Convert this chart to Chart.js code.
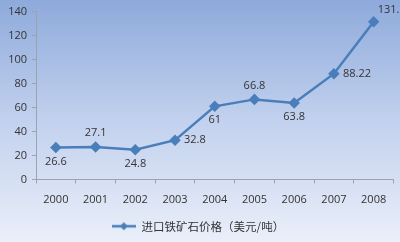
<!DOCTYPE html>
<html>
<head>
<meta charset="utf-8">
<script src="https://cdn.jsdelivr.net/npm/chart.js@4/dist/chart.umd.min.js"></script>
<style>
  html, body { margin: 0; padding: 0; background: #c6d4ee; }
  #wrap { width: 400px; height: 242px; }
</style>
</head>
<body>
<div id="wrap"><canvas id="chart" width="400" height="242"></canvas></div>
<script>
// data
const years = ['2000', '2001', '2002', '2003', '2004', '2005', '2006', '2007', '2008'];
const prices = [26.6, 27.1, 24.8, 32.8, 61, 66.8, 63.8, 88.22, 131.5];
const seriesName = '进口铁矿石价格（美元/吨）';
const yTicks = [0, 20, 40, 60, 80, 100, 120, 140];

// where each value label sits relative to its point
const labelPos = ['below', 'above', 'below', 'right', 'below', 'above', 'below', 'right', 'upright'];

const lineColor = '#4a7ebb';
const textColor = '#333';
const axisColor = '#9aa3b0';
const numFont = '"Open Sans", "Liberation Sans", sans-serif';

// little line + diamond used as legend marker
function legendMarker() {
    const c = document.createElement('canvas');
    c.width = 24;
    c.height = 10;
    const g = c.getContext('2d');
    g.strokeStyle = lineColor;
    g.lineWidth = 2.5;
    g.beginPath();
    g.moveTo(0, 5);
    g.lineTo(24, 5);
    g.stroke();
    g.fillStyle = lineColor;
    g.beginPath();
    g.moveTo(12, 1);
    g.lineTo(16, 5);
    g.lineTo(12, 9);
    g.lineTo(8, 5);
    g.closePath();
    g.fill();
    return c;
}

const background = {
    id: 'background',
    beforeDraw(chart) {
        const ctx = chart.ctx;
        const grad = ctx.createLinearGradient(0, 0, 0, chart.height);
        grad.addColorStop(0, '#8eaadb');
        grad.addColorStop(0.5, '#c2d1ee');
        grad.addColorStop(1, '#eaeff9');
        ctx.save();
        ctx.fillStyle = grad;
        ctx.fillRect(0, 0, chart.width, chart.height);
        ctx.restore();
    }
};

const pointLabels = {
    id: 'pointLabels',
    afterDatasetsDraw(chart) {
        const ctx = chart.ctx;
        const meta = chart.getDatasetMeta(0);
        ctx.save();
        ctx.font = '11px ' + numFont;
        ctx.fillStyle = textColor;
        ctx.textBaseline = 'middle';
        meta.data.forEach((pt, i) => {
            const txt = String(prices[i]);
            let x = pt.x, y = pt.y;
            switch (labelPos[i]) {
                case 'above':
                    ctx.textAlign = 'center';
                    y -= 14;
                    break;
                case 'below':
                    ctx.textAlign = 'center';
                    y += 14;
                    break;
                case 'right':
                    ctx.textAlign = 'left';
                    x += 9;
                    break;
                case 'upright':
                    ctx.textAlign = 'left';
                    x += 4;
                    y -= 12;
                    break;
            }
            ctx.fillText(txt, x, y);
        });
        ctx.restore();
    }
};

const ctx = document.getElementById('chart').getContext('2d');
new Chart(ctx, {
    type: 'line',
    data: {
        labels: years,
        datasets: [{
            label: seriesName,
            data: prices,
            borderColor: lineColor,
            backgroundColor: lineColor,
            borderWidth: 2.5,
            pointStyle: 'rectRot',
            pointRadius: 4,
            pointHoverRadius: 4,
            tension: 0,
            fill: false
        }]
    },
    options: {
        responsive: false,
        animation: false,
        devicePixelRatio: 1,
        layout: { padding: { top: 2, right: 4, bottom: 0, left: 0 } },
        scales: {
            x: {
                offset: true,
                grid: { display: true, offset: true, drawOnChartArea: false, tickLength: 4, color: axisColor },
                border: { color: axisColor, width: 1 },
                ticks: { color: textColor, font: { family: numFont, size: 11 }, padding: 10 },
                afterFit(scale) { scale.height = 38; }
            },
            y: {
                min: 0,
                max: 140,
                afterBuildTicks(scale) { scale.ticks = yTicks.map(v => ({ value: v })); },
                grid: { display: true, drawOnChartArea: false, tickLength: 4, color: axisColor },
                border: { color: axisColor, width: 1 },
                ticks: { color: textColor, font: { family: numFont, size: 11 }, padding: 5 },
                afterFit(scale) { scale.width = 36; }
            }
        },
        plugins: {
            legend: {
                position: 'bottom',
                labels: {
                    usePointStyle: true,
                    pointStyleWidth: 24,
                    color: textColor,
                    font: { family: '"Noto Sans CJK SC", sans-serif', size: 11.5 },
                    padding: 3,
                    generateLabels(chart) {
                        const items = Chart.defaults.plugins.legend.labels.generateLabels(chart);
                        items.forEach(it => { it.pointStyle = legendMarker(); });
                        return items;
                    }
                }
            },
            tooltip: { enabled: false }
        }
    },
    plugins: [background, pointLabels]
});
</script>
</body>
</html>
